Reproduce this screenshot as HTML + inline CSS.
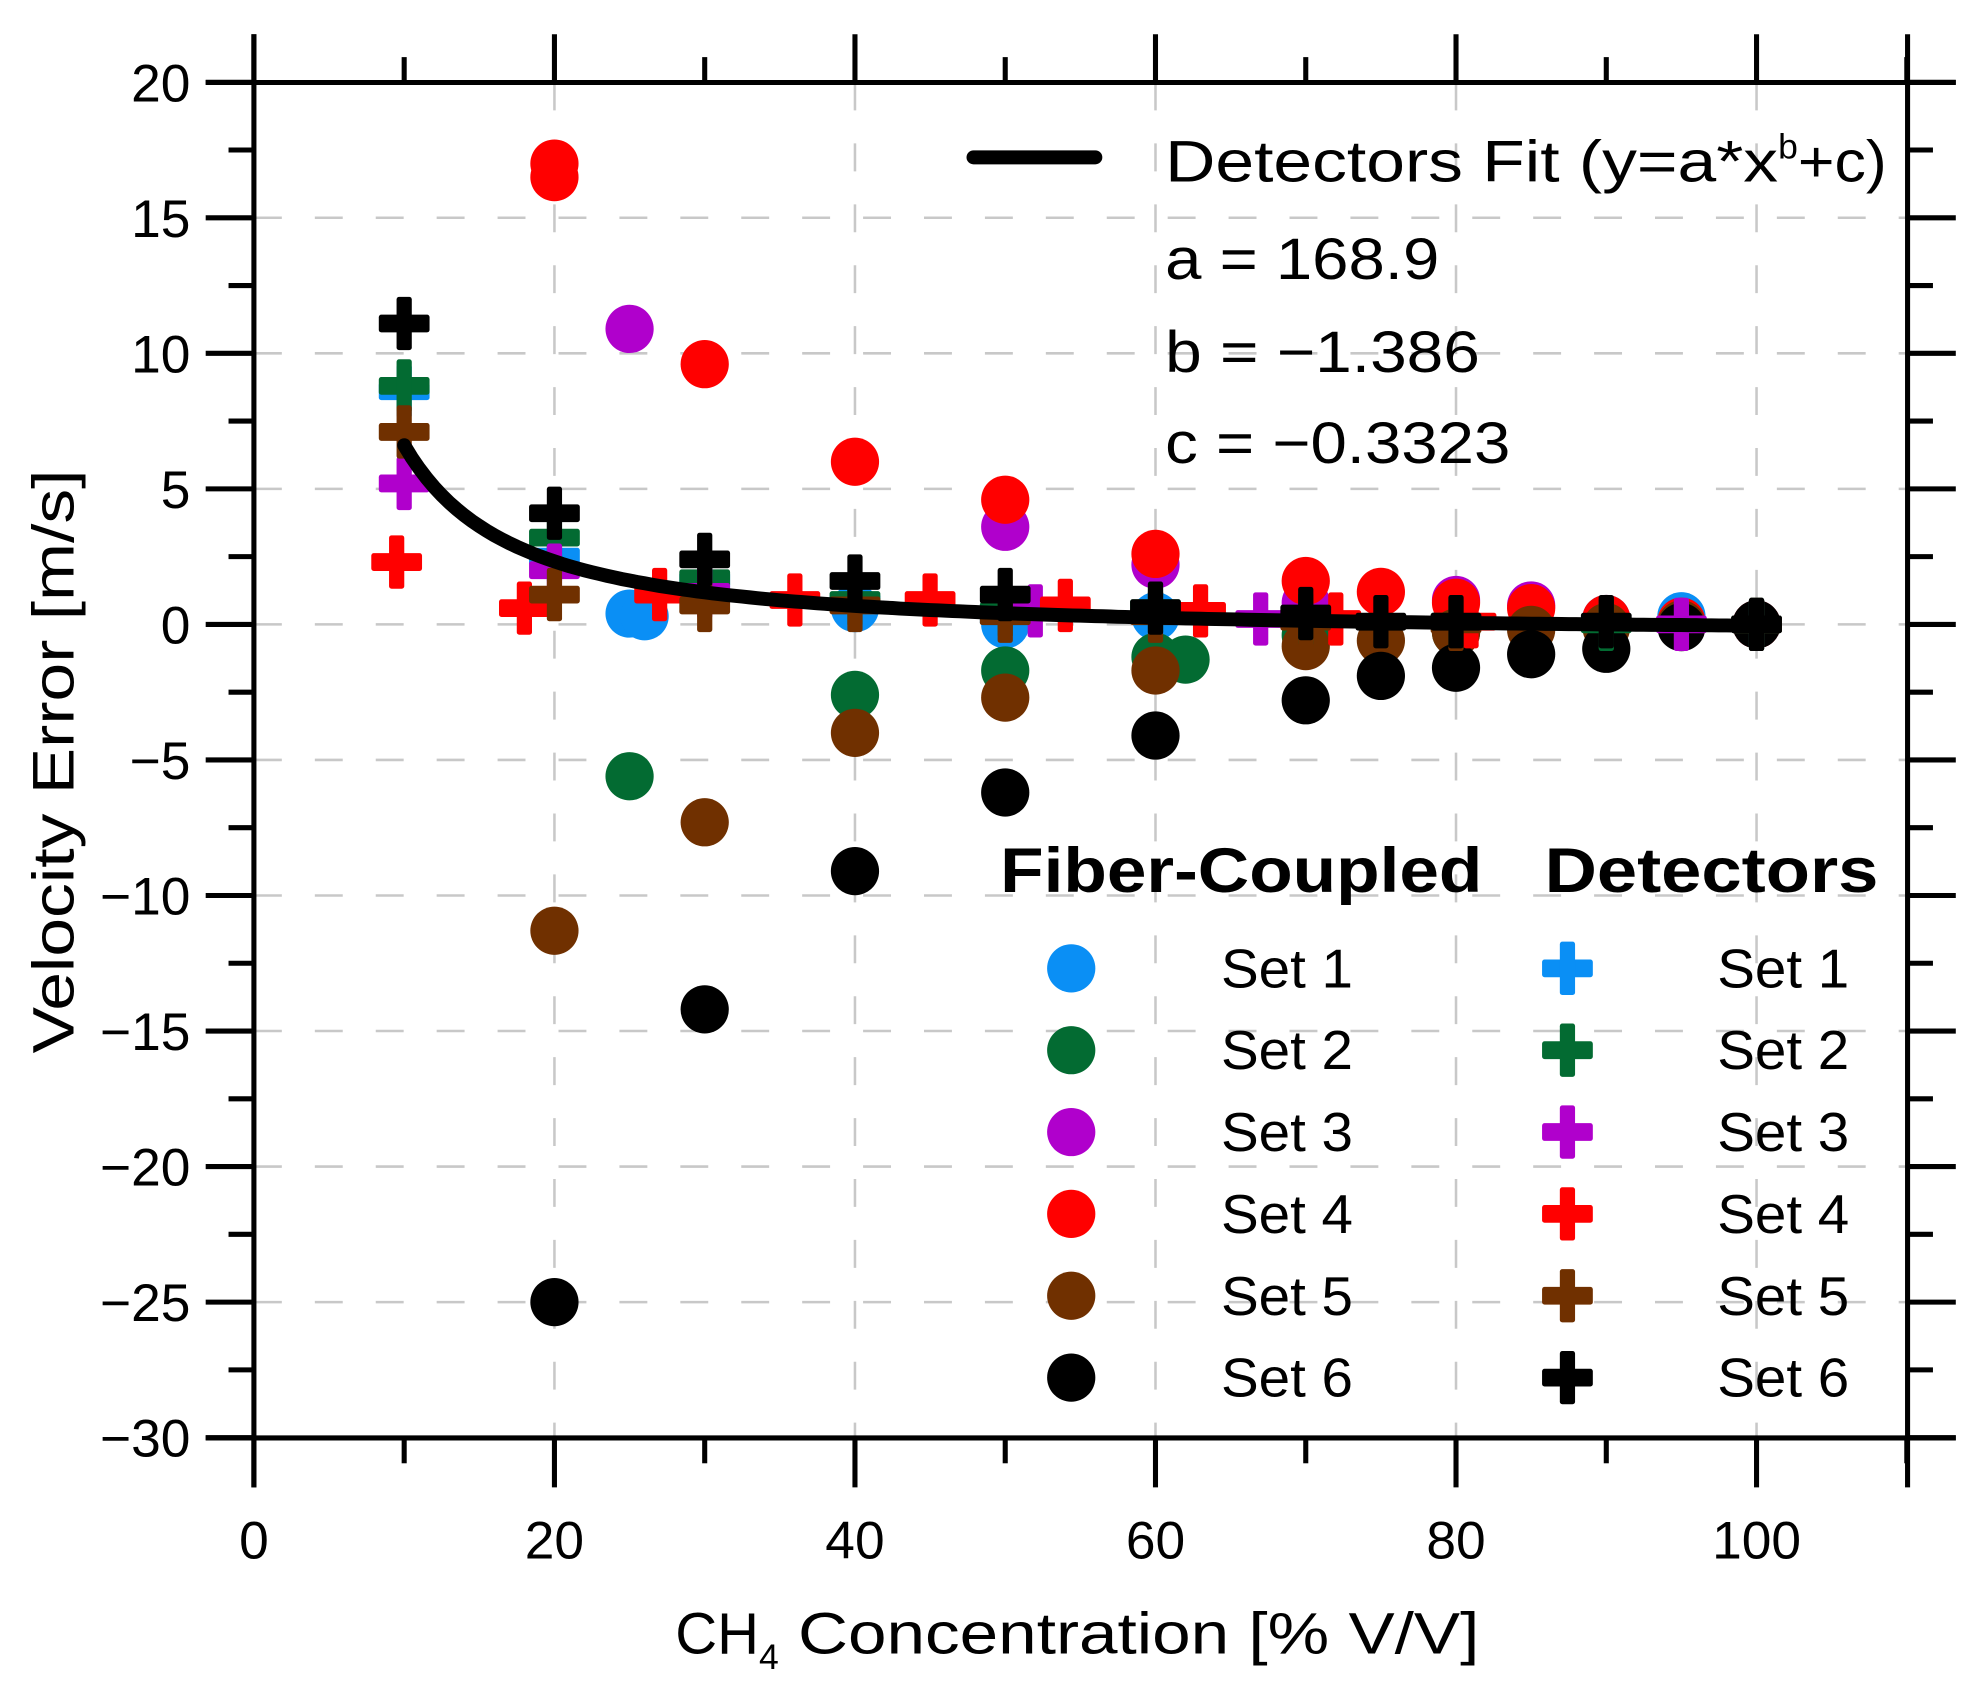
<!DOCTYPE html>
<html><head><meta charset="utf-8"><style>
html,body{margin:0;padding:0;background:#fff;}
svg{display:block;font-family:"Liberation Sans",sans-serif;}
</style></head><body>
<svg id="chart" width="1980" height="1693" viewBox="0 0 1560 1334" xmlns="http://www.w3.org/2000/svg">
<g id="grid"></g>
<g id="axes"></g>
<g id="marks"></g>
<g id="legend"></g>
</svg>
<script>
const xTicks=[0,20,40,60,80,100];
const yTicks=[20,15,10,5,0,-5,-10,-15,-20,-25,-30];
const colors=['#0a8ff5','#036b32','#b000cc','#ff0000','#703000','#000000'];
const setNames=['Set 1','Set 2','Set 3','Set 4','Set 5','Set 6'];
// fiber-coupled (circles)
const fibX1=[25,26,40,50,60,70,80,90,95,100];
const fibY1=[0.4,0.3,0.6,0,0.3,0.3,0.1,0.2,0.3,0];
const fibX2=[25,40,50,60,62,70,80,90,100];
const fibY2=[-5.6,-2.6,-1.7,-1.2,-1.3,-0.4,-0.3,0,0];
const fibX3=[25,50,60,70,80,85,90,100];
const fibY3=[10.9,3.6,2.2,0.8,0.9,0.7,0.1,0];
const fibX4=[20,20,30,40,50,60,70,75,80,85,90,95,100];
const fibY4=[17,16.5,9.6,6.0,4.6,2.6,1.6,1.2,0.8,0.6,0.2,0.1,0];
const fibX5=[20,30,40,50,60,70,75,80,85,90,95,100];
const fibY5=[-11.3,-7.3,-4.0,-2.7,-1.7,-0.8,-0.6,-0.3,-0.2,-0.1,0,0];
const fibX6=[20,30,40,50,60,70,75,80,85,90,95,100];
const fibY6=[-25,-14.2,-9.1,-6.2,-4.1,-2.8,-1.9,-1.6,-1.1,-0.9,-0.1,0];
// detectors (plus)
const detX1=[10,20,30,40,50,100];
const detY1=[8.6,2.5,1.6,0.8,0.3,0];
const detX2=[10,20,30,40,50,60,70,80,90,100];
const detY2=[8.8,3.2,1.7,0.9,0.5,0.6,0.2,0.1,0,0];
const detX3=[10,20,30,52,67,95];
const detY3=[5.2,2.0,1.2,0.5,0.2,0];
const detX4=[9.5,18,27,36,45,54,63,72,81];
const detY4=[2.3,0.6,1.1,0.9,0.9,0.7,0.5,0.2,0.1];
const detX5=[10,20,30,40,50,60,70,80,100];
const detY5=[7.1,1.1,0.7,0.7,0.3,0.3,0.1,0,0];
const detX6=[10,20,30,40,50,60,70,75,80,90,100];
const detY6=[11.1,4.1,2.4,1.6,1.1,0.6,0.4,0.1,0.1,0.1,0];
const fitA=168.9, fitB=-1.386, fitC=-0.3323;

const NS='http://www.w3.org/2000/svg';
const L=200,R=1503,T=65,B=1133;
const sx=v=>200+11.84*v;
const sy=v=>492-21.36*v;
function mk(tag,attrs,parent){const e=document.createElementNS(NS,tag);for(const k in attrs)e.setAttribute(k,attrs[k]);parent.appendChild(e);return e;}
const grid=document.getElementById('grid'),axes=document.getElementById('axes'),marks=document.getElementById('marks'),legend=document.getElementById('legend');

[20,40,60,80,100].forEach(v=>{const e=mk('line',{x1:sx(v),x2:sx(v),y1:T,y2:B,stroke:'#c8c8c8','stroke-width':2,'stroke-dasharray':'22,26'},grid);

});
[15,10,5,0,-5,-10,-15,-20,-25].forEach(v=>{const e=mk('line',{x1:L,x2:R,y1:sy(v),y2:sy(v),stroke:'#c8c8c8','stroke-width':2,'stroke-dasharray':'22,26'},grid);

});

const ax=[[162,T,1541,T],[162,B,1541,B],[L,27,L,1172],[R,27,R,1172]];
ax.forEach(a=>{const e=mk('line',{x1:a[0],y1:a[1],x2:a[2],y2:a[3],stroke:'#000','stroke-width':4},axes);

});
for(let v=-30;v<=20;v+=2.5){const major=(v%5===0);const y=sy(v);
 const e1=mk('line',{x1:major?162:180,x2:L,y1:y,y2:y,stroke:'#000','stroke-width':4},axes);
 
 
 const e2=mk('line',{x1:R,x2:major?1541:1523,y1:y,y2:y,stroke:'#000','stroke-width':4},axes);
 
 }
for(let v=0;v<=110;v+=10){const major=(v%20===0);const x=sx(v);
 const e1=mk('line',{x1:x,x2:x,y1:B,y2:major?1172:1153,stroke:'#000','stroke-width':4},axes);
 
 
 const e2=mk('line',{x1:x,x2:x,y1:T,y2:major?27:45,stroke:'#000','stroke-width':4},axes);
 
 }
yTicks.forEach(v=>{const t=mk('text',{x:150,y:sy(v)+15,'text-anchor':'end','font-size':42},axes);t.textContent=(v<0?'\u2212'+(-v):v);

});
xTicks.forEach(v=>{const t=mk('text',{x:sx(v),y:1228,'text-anchor':'middle','font-size':42},axes);t.textContent=v;

});
const yt=mk('text',{x:0,y:0,'text-anchor':'middle','font-size':46,textLength:460,lengthAdjust:'spacingAndGlyphs',transform:'translate(58,600) rotate(-90)'},axes);yt.textContent='Velocity Error [m/s]';


const xt=mk('text',{x:532,y:1303,'font-size':46},axes);
xt.innerHTML='<tspan textLength="66" lengthAdjust="spacingAndGlyphs">CH</tspan><tspan font-size="28" dy="12">4</tspan><tspan dy="-12" textLength="552" lengthAdjust="spacingAndGlyphs"> Concentration [% V/V]</tspan>';



function circle(cx,cy,c,parent){const e=mk('circle',{cx:cx,cy:cy,r:19,fill:c},parent);return e;}
function plus(cx,cy,c,parent){const g=mk('g',{},parent);
 mk('rect',{x:cx-20,y:cy-7,width:40,height:14,fill:c,rx:2},g);
 mk('rect',{x:cx-6,y:cy-21,width:12,height:42,fill:c,rx:2},g);return g;}

const fibX=[fibX1,fibX2,fibX3,fibX4,fibX5,fibX6],fibY=[fibY1,fibY2,fibY3,fibY4,fibY5,fibY6];
const detX=[detX1,detX2,detX3,detX4,detX5,detX6],detY=[detY1,detY2,detY3,detY4,detY5,detY6];
for(let s=0;s<6;s++){fibX[s].forEach((x,i)=>{const e=circle(sx(x),sy(fibY[s][i]),colors[s],marks);
 
 });}
for(let s=0;s<6;s++){detX[s].forEach((x,i)=>{const e=plus(sx(x),sy(detY[s][i]),colors[s],marks);
 
 });}
let d='';for(let x=10;x<=100;x+=0.5){const y=fitA*Math.pow(x,fitB)+fitC;d+=(d?'L':'M')+sx(x).toFixed(1)+','+sy(y).toFixed(1);}
const fit=mk('path',{d:d,fill:'none',stroke:'#000','stroke-width':11,'stroke-linecap':'round'},marks);



const ll=mk('line',{x1:767,x2:863,y1:124,y2:124,stroke:'#000','stroke-width':11,'stroke-linecap':'round'},legend);


const lt=mk('text',{x:918,y:143,'font-size':46},legend);
lt.innerHTML='<tspan textLength="483" lengthAdjust="spacingAndGlyphs">Detectors Fit (y=a*x</tspan><tspan font-size="28" dy="-18">b</tspan><tspan dy="18" textLength="70" lengthAdjust="spacingAndGlyphs">+c)</tspan>';


[['a = 168.9',220,216],['b = \u22121.386',293,248],['c = \u22120.3323',365,272]].forEach(p=>{const t=mk('text',{x:918,y:p[1],'font-size':46,textLength:p[2],lengthAdjust:'spacingAndGlyphs'},legend);t.textContent=p[0];

});
const h1=mk('text',{x:788,y:703,'font-size':50,'font-weight':'bold',textLength:380,lengthAdjust:'spacingAndGlyphs'},legend);h1.textContent='Fiber-Coupled';


const h2=mk('text',{x:1217,y:703,'font-size':50,'font-weight':'bold',textLength:263,lengthAdjust:'spacingAndGlyphs'},legend);h2.textContent='Detectors';


for(let s=0;s<6;s++){const y=763+s*64.5;
 const c=circle(844,y,colors[s],legend);
 
 
 const t1=mk('text',{x:962,y:y+15,'font-size':43,textLength:104,lengthAdjust:'spacingAndGlyphs'},legend);t1.textContent=setNames[s];
 
 
 const p=plus(1235,y,colors[s],legend);
 
 
 const t2=mk('text',{x:1353,y:y+15,'font-size':43,textLength:104,lengthAdjust:'spacingAndGlyphs'},legend);t2.textContent=setNames[s];
 
 }
</script>
</body></html>
